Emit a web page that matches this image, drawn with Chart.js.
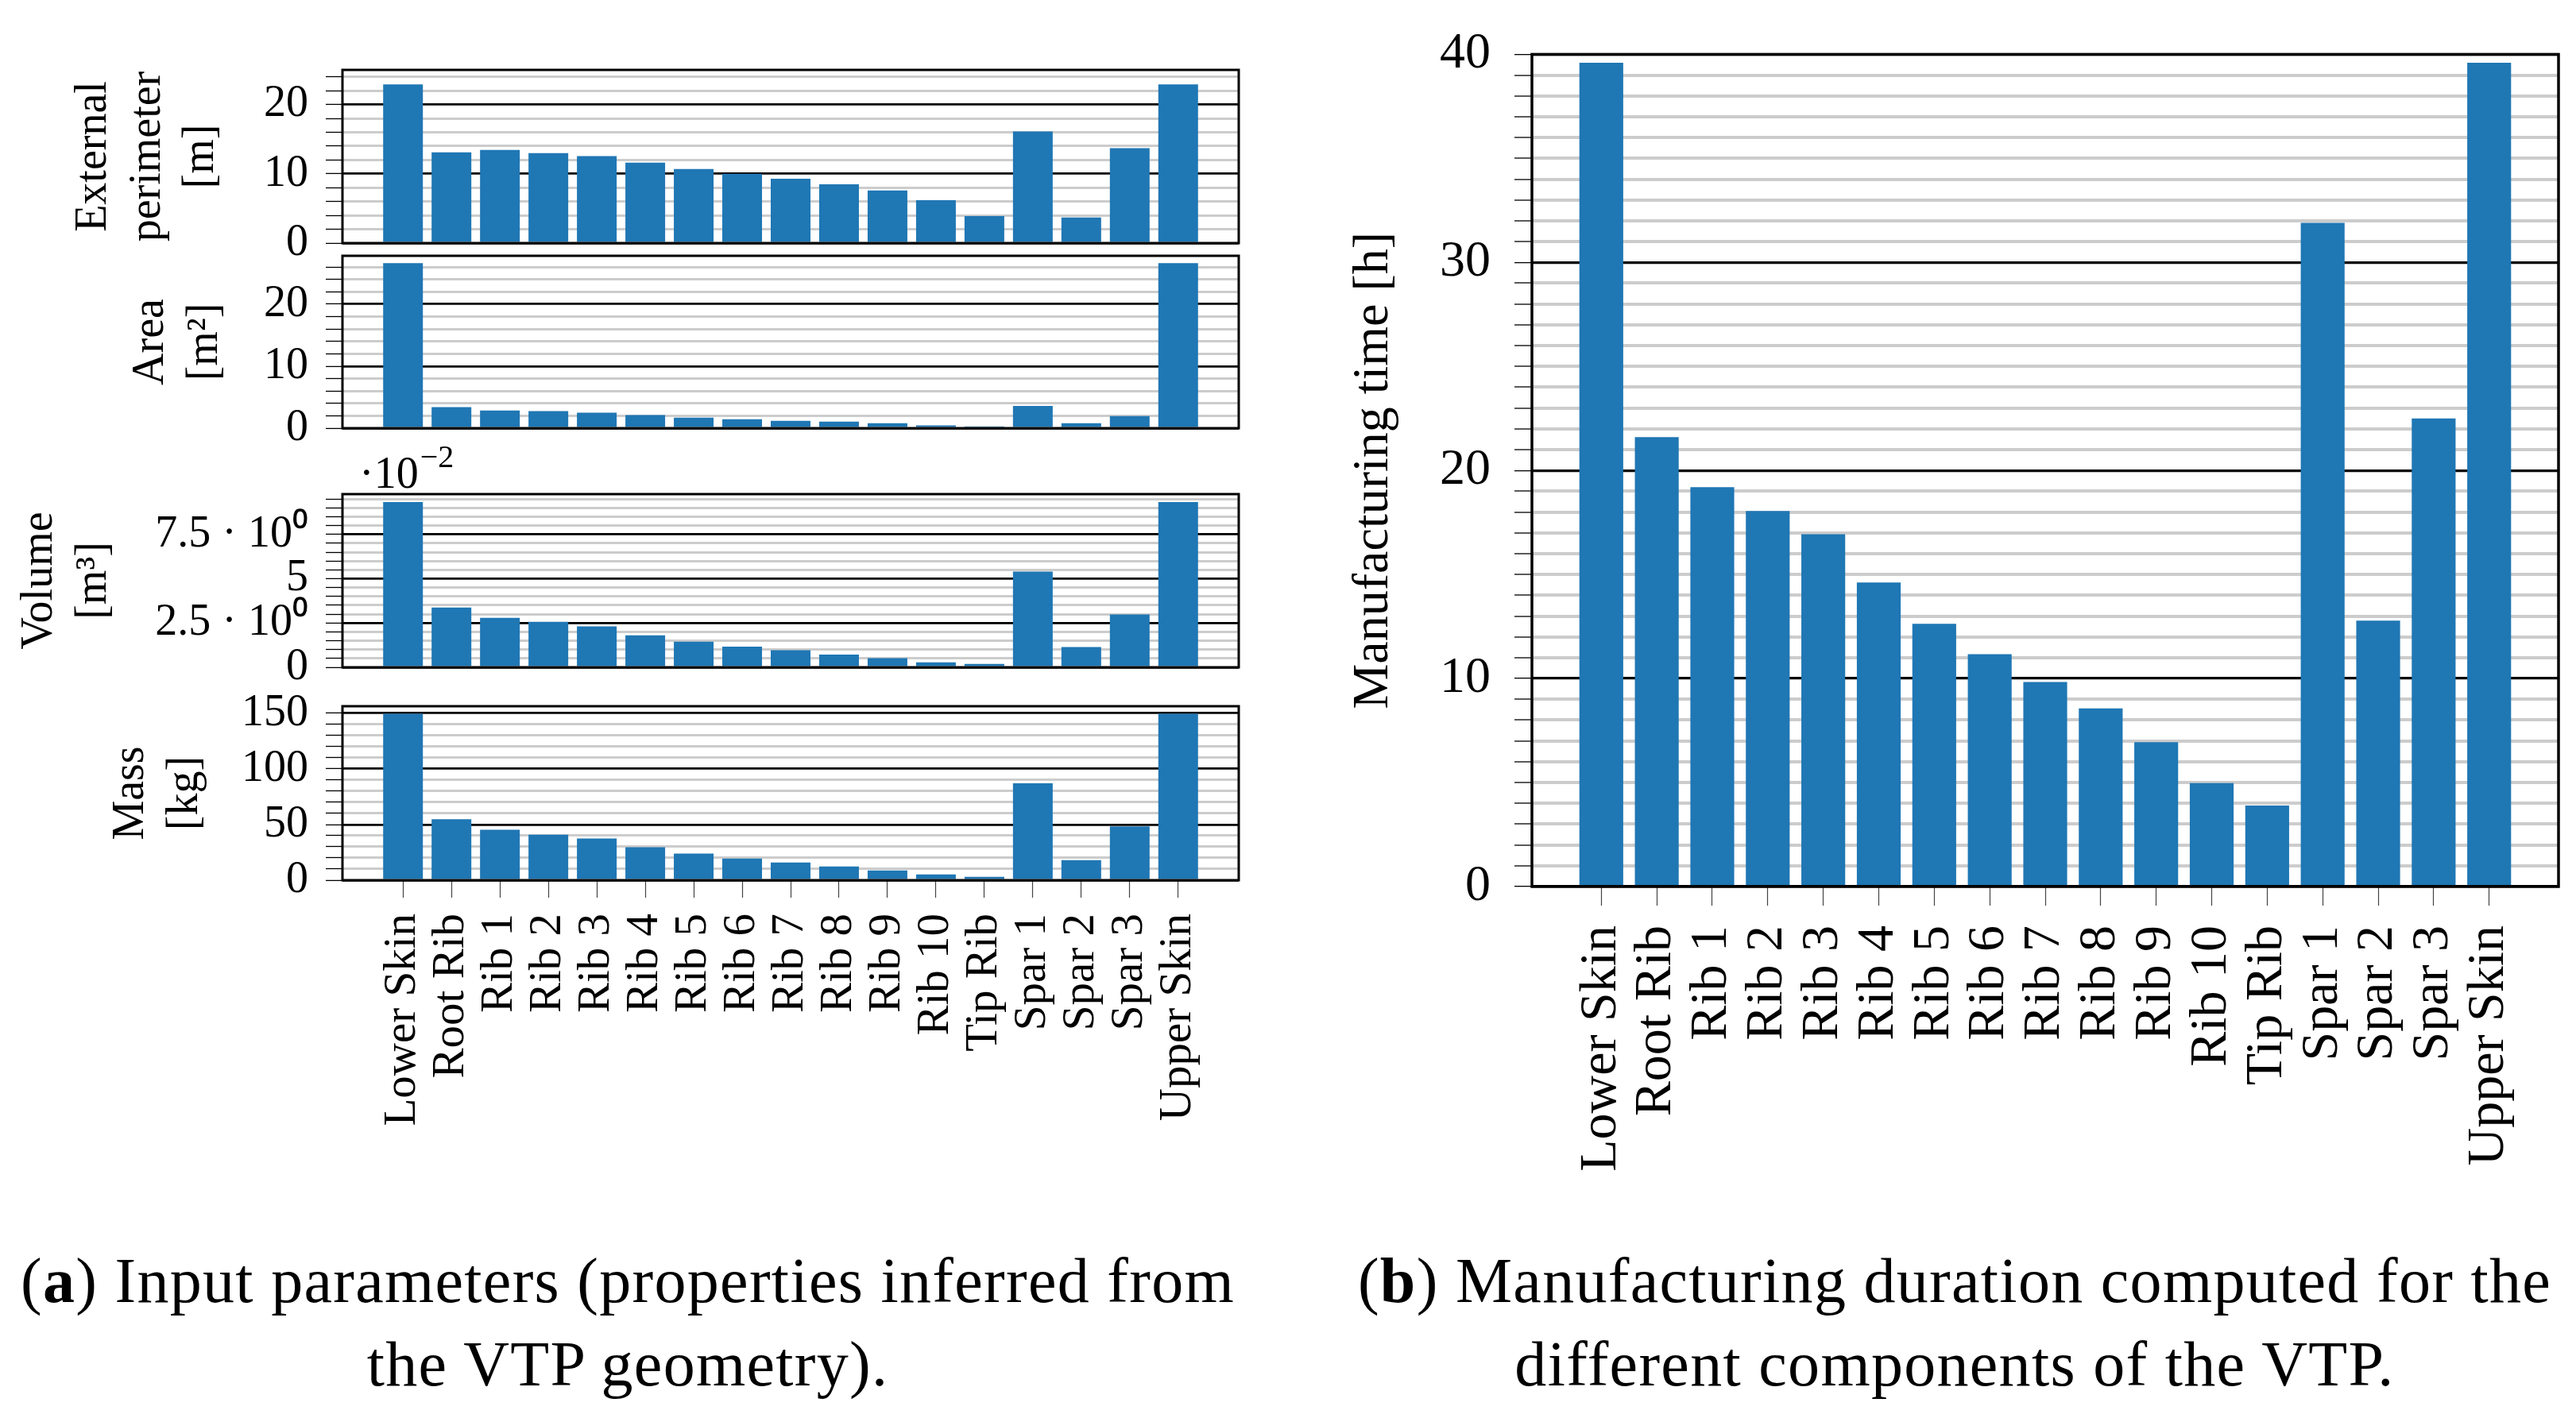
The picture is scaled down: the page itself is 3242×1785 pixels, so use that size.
<!DOCTYPE html>
<html>
<head>
<meta charset="utf-8">
<script src="https://cdn.jsdelivr.net/npm/chart.js@4.4.1/dist/chart.umd.min.js"></script>
<style>
  html, body { margin: 0; padding: 0; background: #fff; }
  body { width: 3242px; height: 1785px; position: relative; overflow: hidden; font-family: 'Liberation Serif', serif; }
  .box { position: absolute; top: 0; height: 1785px; }
  .caption { position: absolute; top: 1560px; font-size: 80px; line-height: 105px; letter-spacing: 1.3px; text-align: center; color: #000; white-space: nowrap; }
</style>
</head>
<body>
<div class="box" style="left:0;width:1600px"><canvas id="perimeter"></canvas></div>
<div class="box" style="left:0;width:1600px"><canvas id="area"></canvas></div>
<div class="box" style="left:0;width:1600px"><canvas id="volume"></canvas></div>
<div class="box" style="left:0;width:1600px"><canvas id="mass"></canvas></div>
<div class="box" style="left:1660px;width:1582px"><canvas id="time"></canvas></div>

<div class="caption" style="left:0;width:1580px">(<b>a</b>) Input parameters (properties inferred from<br>the VTP geometry).</div>
<div class="caption" style="left:1690px;width:1540px">(<b>b</b>) Manufacturing duration computed for the<br>different components of the VTP.</div>

<script>
const components = ['Lower Skin', 'Root Rib', 'Rib 1', 'Rib 2', 'Rib 3', 'Rib 4', 'Rib 5', 'Rib 6',
  'Rib 7', 'Rib 8', 'Rib 9', 'Rib 10', 'Tip Rib', 'Spar 1', 'Spar 2', 'Spar 3', 'Upper Skin']

// external perimeter [m]
const perimeter = [22.9, 13.1, 13.45, 13.0, 12.55, 11.6, 10.7, 10.0, 9.3, 8.5, 7.6, 6.2, 3.9, 16.1, 3.7, 13.7, 22.9]
// area [m^2]
const area = [26.6, 3.4, 2.85, 2.75, 2.5, 2.1, 1.7, 1.45, 1.2, 1.05, 0.8, 0.45, 0.3, 3.6, 0.8, 1.95, 26.6]
// volume [m^3] x 10^-2
const volume = [9.33, 3.38, 2.79, 2.57, 2.31, 1.81, 1.45, 1.17, 0.97, 0.72, 0.52, 0.28, 0.19, 5.41, 1.14, 2.98, 9.33]
// mass [kg]
const mass = [149.5, 54.7, 45.3, 40.9, 37.4, 29.7, 23.9, 19.5, 15.9, 12.4, 8.8, 5.2, 3.0, 87.1, 18.1, 48.4, 149.5]
// manufacturing time [h]
const hours = [39.6, 21.6, 19.2, 18.05, 16.93, 14.61, 12.63, 11.17, 9.83, 8.56, 6.94, 4.97, 3.89, 31.9, 12.78, 22.5, 39.6]

const volumeTicks = ['0', '2.5 · 10⁰', '5', '7.5 · 10⁰']

const blue = '#1f77b4'
const gray = '#cccccc'
const serif = "'Liberation Serif', serif"

Chart.defaults.font.family = serif
Chart.defaults.color = '#000'

// black box round the plot area
const frame = {
  id: 'frame',
  afterDraw(chart, args, opts) {
    const { ctx, chartArea: a } = chart
    ctx.save()
    ctx.strokeStyle = '#000'
    ctx.lineWidth = opts.width || 3
    ctx.strokeRect(a.left, a.top, a.right - a.left, a.bottom - a.top)
    ctx.restore()
  },
}

// the "·10^-2" multiplier over the volume axis
const multiplier = {
  id: 'multiplier',
  afterDraw(chart) {
    const { ctx, chartArea: a } = chart
    ctx.save()
    ctx.fillStyle = '#000'
    ctx.textBaseline = 'alphabetic'
    ctx.textAlign = 'left'
    ctx.font = '56px ' + serif
    ctx.fillText('·10', a.left + 21, a.top - 8)
    const w = ctx.measureText('·10').width
    ctx.font = '40px ' + serif
    ctx.fillText('−2', a.left + 23 + w, a.top - 34)
    ctx.restore()
  },
}

function isMajor(v, major) {
  const r = v / major
  return Math.abs(r - Math.round(r)) < 1e-6
}

function barChart(id, values, cfg) {
  return new Chart(document.getElementById(id), {
    type: 'bar',
    data: {
      datasets: [
        {
          data: values.map((v, i) => ({ x: i, y: v })),
          backgroundColor: blue,
          barPercentage: cfg.barPct,
          categoryPercentage: 1,
        },
      ],
    },
    options: {
      responsive: true,
      maintainAspectRatio: false,
      animation: false,
      layout: { padding: cfg.padding },
      plugins: {
        legend: { display: false },
        tooltip: { enabled: false },
        frame: { width: cfg.frameWidth },
      },
      scales: {
        x: {
          type: 'linear',
          min: -1.25,
          max: 17.25,
          offset: false,
          display: !!cfg.xHeight,
          afterBuildTicks: (s) => {
            s.ticks = components.map((_, i) => ({ value: i }))
          },
          afterFit: (s) => {
            if (cfg.xHeight) s.height = cfg.xHeight
          },
          border: { display: false },
          grid: {
            offset: false,
            drawOnChartArea: false,
            tickLength: cfg.xTick,
            tickColor: '#444',
            tickWidth: 1.2,
          },
          ticks: {
            autoSkip: false,
            minRotation: 90,
            maxRotation: 90,
            padding: cfg.xPad,
            font: { size: cfg.xFont },
            callback: (v) => components[v],
          },
        },
        y: {
          min: 0,
          max: cfg.max,
          afterFit: (s) => {
            s.width = cfg.yWidth
          },
          border: { display: false },
          grid: {
            color: (c) => (isMajor(c.tick.value, cfg.major) ? '#000' : gray),
            lineWidth: (c) => (isMajor(c.tick.value, cfg.major) ? cfg.majorWidth : cfg.minorWidth),
            tickLength: cfg.yTick,
            tickColor: '#000',
            tickWidth: 1.3,
          },
          ticks: {
            stepSize: cfg.minor,
            includeBounds: false,
            autoSkip: false,
            padding: cfg.yPad,
            font: { size: cfg.yFont },
            callback: (v) => {
              if (!isMajor(v, cfg.major)) return ''
              return cfg.tickLabels ? cfg.tickLabels[Math.round(v / cfg.major)] : String(v)
            },
          },
          title: {
            display: true,
            text: cfg.title,
            font: { size: cfg.titleFont, lineHeight: 1.2 },
            padding: { top: cfg.titlePad, bottom: 0 },
          },
        },
      },
    },
    plugins: cfg.extra ? [frame, cfg.extra] : [frame],
  })
}

const left = {
  yWidth: 431, yTick: 21, yPad: 22, yFont: 56, titleFont: 56, barPct: 0.82,
  majorWidth: 2.8, minorWidth: 3, frameWidth: 3,
}

barChart('perimeter', perimeter, {
  ...left,
  padding: { left: 0, top: 88, right: 41, bottom: 1479 },
  max: 25, minor: 2, major: 10,
  title: ['External', 'perimeter', '[m]'],
  titlePad: 85,
})

barChart('area', area, {
  ...left,
  padding: { left: 0, top: 322, right: 41, bottom: 1246 },
  max: 27.8, minor: 2, major: 10,
  title: ['Area', '[m²]'],
  titlePad: 157,
})

barChart('volume', volume, {
  ...left,
  padding: { left: 0, top: 622, right: 41, bottom: 945 },
  max: 9.78, minor: 0.5, major: 2.5,
  tickLabels: volumeTicks,
  title: ['Volume', '[m³]'],
  titlePad: 17,
  extra: multiplier,
})

barChart('mass', mass, {
  ...left,
  padding: { left: 0, top: 889, right: 41, bottom: 0 },
  max: 156.3, minor: 10, major: 50,
  title: ['Mass', '[kg]'],
  titlePad: 132,
  xHeight: 677, xTick: 22, xPad: 20, xFont: 57,
})

barChart('time', hours, {
  padding: { left: 0, top: 42, right: 22, bottom: 0 },
  yWidth: 268, yTick: 22, yPad: 30, yFont: 64,
  max: 40, minor: 1, major: 10,
  title: 'Manufacturing time [h]',
  titleFont: 64,
  titlePad: 31,
  barPct: 0.79,
  majorWidth: 3.3, minorWidth: 4, frameWidth: 3.5,
  xHeight: 669, xTick: 24, xPad: 25, xFont: 66,
})
</script>
</body>
</html>
